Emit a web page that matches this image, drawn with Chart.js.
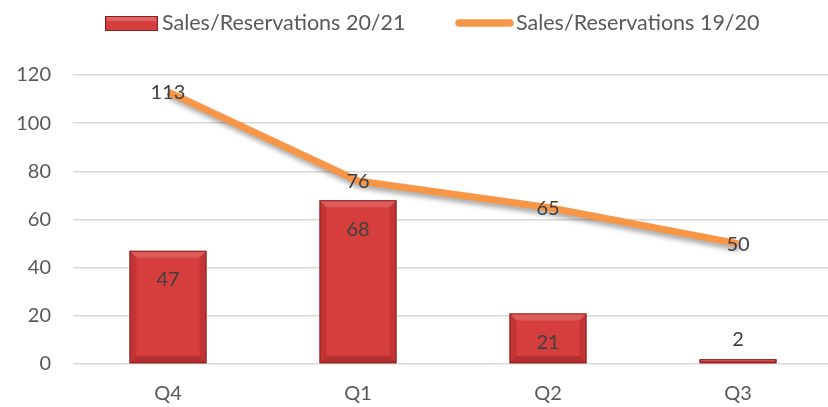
<!DOCTYPE html>
<html>
<head>
<meta charset="utf-8">
<script src="https://cdn.jsdelivr.net/npm/chart.js@4"></script>
<style>
  html, body { margin: 0; padding: 0; background: #fff; overflow: hidden; }
  #wrap { width: 840px; height: 407px; }
</style>
</head>
<body>
<div id="wrap"><canvas id="myChart"></canvas></div>
<script>
const quarters = ["Q4", "Q1", "Q2", "Q3"];
const sales2021 = [47, 68, 21, 2];
const sales1920 = [113, 76, 65, 50];
const yTicks = [0, 20, 40, 60, 80, 100, 120];

const FONT = "Lato, 'Liberation Sans', sans-serif";
const TEXT = "#595959";

// excel-ish bevel on the bars
const bevel = {
  id: "bevel",
  afterDatasetDraw(chart, args) {
    if (args.index !== 0) return;
    const ctx = chart.ctx;
    args.meta.data.forEach((bar) => {
      const l = bar.x - bar.width / 2, r = bar.x + bar.width / 2;
      const t = bar.y, b = bar.base, h = b - t;
      const e = Math.min(7, h / 2);
      ctx.save();
      ctx.fillStyle = "rgba(255,255,255,0.16)";
      ctx.beginPath();
      ctx.moveTo(l, t); ctx.lineTo(r, t); ctx.lineTo(r - e, t + e); ctx.lineTo(l + e, t + e);
      ctx.closePath(); ctx.fill();
      ctx.fillStyle = "rgba(90,0,0,0.14)";
      ctx.beginPath();
      ctx.moveTo(l, t); ctx.lineTo(l + e, t + e); ctx.lineTo(l + e, b - e); ctx.lineTo(l, b);
      ctx.closePath(); ctx.fill();
      ctx.beginPath();
      ctx.moveTo(r, t); ctx.lineTo(r - e, t + e); ctx.lineTo(r - e, b - e); ctx.lineTo(r, b);
      ctx.closePath(); ctx.fill();
      ctx.fillStyle = "rgba(60,0,0,0.22)";
      ctx.beginPath();
      ctx.moveTo(l, b); ctx.lineTo(r, b); ctx.lineTo(r - e, b - e); ctx.lineTo(l + e, b - e);
      ctx.closePath(); ctx.fill();
      ctx.strokeStyle = "#8a1f1f";
      ctx.lineWidth = 1;
      ctx.strokeRect(l + 0.5, t + 0.5, bar.width - 1, h - 1);
      ctx.restore();
    });
  },
};

// shadow under the orange line
const lineShadow = {
  id: "lineShadow",
  beforeDatasetDraw(chart, args) {
    if (args.index !== 1) return;
    const ctx = chart.ctx;
    ctx.save();
    ctx.shadowColor = "rgba(0,0,0,0.35)";
    ctx.shadowBlur = 5;
    ctx.shadowOffsetX = 2;
    ctx.shadowOffsetY = 4;
  },
  afterDatasetDraw(chart, args) {
    if (args.index !== 1) return;
    chart.ctx.restore();
  },
};

const valueLabels = {
  id: "valueLabels",
  afterDatasetsDraw(chart) {
    const ctx = chart.ctx;
    ctx.save();
    ctx.font = "20px " + FONT;
    ctx.fillStyle = "#404040";
    ctx.textAlign = "center";
    ctx.textBaseline = "middle";
    chart.getDatasetMeta(0).data.forEach((bar, i) => {
      const h = bar.base - bar.y;
      const y = h > 40 ? bar.y + 29 : bar.y - 20;
      ctx.fillText(sales2021[i], bar.x, y);
    });
    chart.getDatasetMeta(1).data.forEach((pt, i) => {
      ctx.fillText(sales1920[i], pt.x, pt.y + 1);
    });
    ctx.restore();
  },
};

const legendDraw = {
  id: "legendDraw",
  afterDraw(chart) {
    const ctx = chart.ctx;
    ctx.save();
    ctx.font = "21.5px " + FONT;
    ctx.textBaseline = "middle";
    const y = 23;
    ctx.fillStyle = "#d63d3d";
    ctx.fillRect(105, y - 7, 53, 15);
    ctx.fillStyle = "rgba(255,255,255,0.2)";
    ctx.fillRect(107, y - 6, 49, 4);
    ctx.strokeStyle = "#8a1f1f";
    ctx.lineWidth = 1;
    ctx.strokeRect(105.5, y - 6.5, 52, 14);
    ctx.fillStyle = TEXT;
    ctx.fillText(chart.data.datasets[0].label, 162, y);
    ctx.strokeStyle = "#f79646";
    ctx.lineWidth = 7.5;
    ctx.lineCap = "round";
    ctx.beginPath();
    ctx.moveTo(459, y); ctx.lineTo(510, y);
    ctx.stroke();
    ctx.fillText(chart.data.datasets[1].label, 516, y);
    ctx.restore();
  },
};

new Chart(document.getElementById("myChart"), {
  data: {
    labels: quarters,
    datasets: [
      {
        type: "bar",
        label: "Sales/Reservations 20/21",
        data: sales2021,
        backgroundColor: "#d63d3d",
        borderWidth: 0,
        categoryPercentage: 1,
        barPercentage: 0.405,
        order: 1,
      },
      {
        type: "line",
        label: "Sales/Reservations 19/20",
        data: sales1920,
        borderColor: "#f79646",
        borderWidth: 7,
        pointRadius: 0,
        tension: 0,
        order: 0,
      },
    ],
  },
  options: {
    responsive: true,
    maintainAspectRatio: false,
    animation: false,
    layout: { padding: { top: 75, right: 7, bottom: 0, left: 0 } },
    plugins: {
      legend: { display: false },
      tooltip: { enabled: false },
    },
    scales: {
      x: {
        afterFit: (scale) => {
          scale.height = 43;
        },
        grid: { display: false },
        border: { display: false },
        ticks: { color: TEXT, font: { family: FONT, size: 20 }, padding: 10 },
      },
      y: {
        min: 0,
        max: 120,
        afterBuildTicks: (scale) => {
          scale.ticks = yTicks.map((v) => ({ value: v }));
        },
        afterFit: (scale) => {
          scale.width = 73;
        },
        grid: { color: "#d9d9d9", lineWidth: 1.5, drawTicks: false },
        border: { display: false },
        ticks: { color: TEXT, font: { family: FONT, size: 20 }, padding: 22 },
      },
    },
  },
  plugins: [bevel, lineShadow, valueLabels, legendDraw],
});
</script>
</body>
</html>
